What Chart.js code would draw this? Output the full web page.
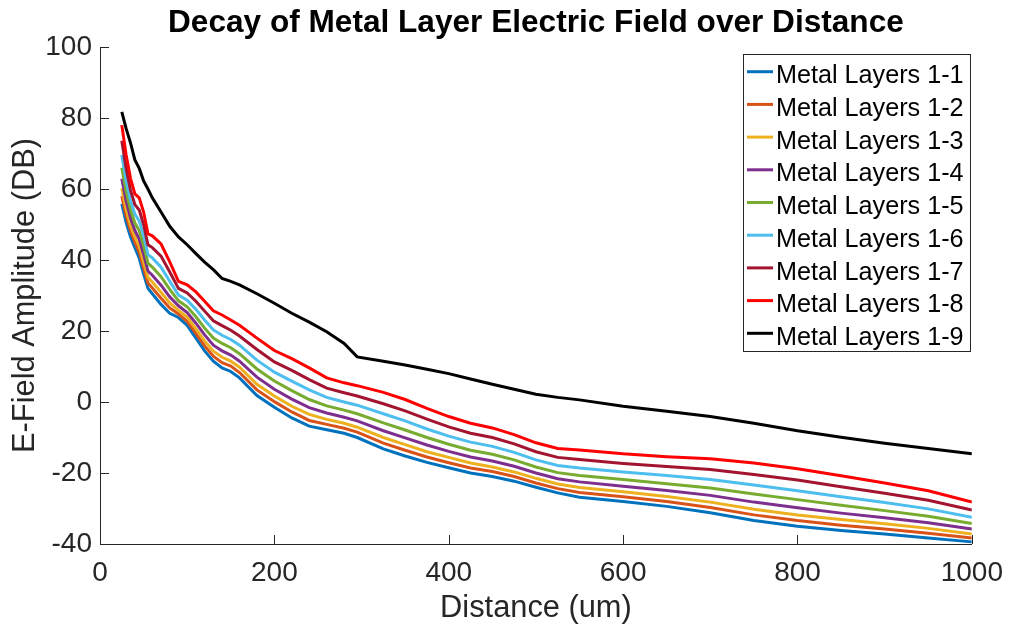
<!DOCTYPE html>
<html>
<head>
<meta charset="utf-8">
<title>Decay of Metal Layer Electric Field over Distance</title>
<script src="https://cdn.jsdelivr.net/npm/chart.js@4.4.1/dist/chart.umd.min.js"></script>
<style>
  html, body { margin: 0; padding: 0; background: #ffffff; }
  #wrap { width: 1015px; height: 628px; }
</style>
</head>
<body>
<div id="wrap"><canvas id="c" width="1015" height="628"></canvas></div>
<script>
// Distance samples (um)
const distance = [25,30,35,40,45,50,55,60,70,80,90,100,110,120,130,140,150,160,180,200,220,240,260,280,295,325,350,375,400,425,450,475,500,525,550,600,650,700,750,800,850,900,950,1000];

// E-field amplitude (dB) per metal layer stack
const layers1_1 = [55.8,50.5,46.5,43.5,40.5,36,32,30.5,27.5,25,23.8,21.6,18,14.4,11.5,9.6,8.6,6.8,1.8,-1.5,-4.5,-6.8,-7.8,-8.8,-10,-13.2,-15.2,-17,-18.5,-20,-21,-22.3,-24,-25.6,-26.8,-28,-29.4,-31.2,-33.4,-35,-36.2,-37.2,-38.3,-39.4];
const layers1_2 = [58.0,52.4,48.2,45.0,42.2,37.8,33.5,32.1,29.2,26.5,24.8,22.7,19.3,15.8,12.9,11.1,10.1,8.3,3.4,0.1,-2.8,-5.2,-6.3,-7.4,-8.5,-11.6,-13.6,-15.5,-17.1,-18.6,-19.6,-21.0,-22.8,-24.4,-25.5,-26.7,-28.0,-29.7,-31.8,-33.4,-34.7,-35.8,-37.0,-38.3];
const layers1_3 = [60.2,54.3,49.8,46.5,43.9,39.5,35.1,33.8,30.9,27.9,25.8,23.9,20.6,17.2,14.3,12.6,11.5,9.8,5.0,1.7,-1.2,-3.5,-4.9,-6.0,-7.1,-10.0,-12.0,-14.0,-15.6,-17.2,-18.3,-19.7,-21.5,-23.1,-24.1,-25.3,-26.6,-28.2,-30.2,-31.8,-33.1,-34.3,-35.6,-37.2];
const layers1_4 = [62.9,56.6,51.8,48.3,45.9,41.6,36.9,35.7,32.9,29.6,27.1,25.2,22.2,18.9,16.0,14.4,13.2,11.5,7.0,3.6,0.8,-1.6,-3.1,-4.3,-5.3,-8.1,-10.1,-12.1,-13.9,-15.5,-16.6,-18.1,-20.0,-21.6,-22.5,-23.7,-24.9,-26.3,-28.2,-29.8,-31.3,-32.6,-34.0,-35.8];
const layers1_5 = [66.0,59.3,54.1,50.4,48.3,44.1,39.1,38.0,35.3,31.7,28.5,26.8,24.0,20.8,18.0,16.5,15.3,13.6,9.3,5.9,3.2,0.7,-1.1,-2.3,-3.3,-5.9,-7.9,-10.0,-11.9,-13.6,-14.7,-16.3,-18.3,-19.9,-20.7,-21.8,-23.0,-24.2,-25.9,-27.5,-29.1,-30.6,-32.2,-34.2];
const layers1_6 = [69.6,62.3,56.7,52.9,51.0,46.9,41.5,40.6,38.0,34.0,30.1,28.7,26.1,23.1,20.3,18.8,17.6,16.0,11.8,8.4,5.9,3.4,1.3,0.0,-0.9,-3.3,-5.3,-7.6,-9.6,-11.3,-12.5,-14.2,-16.3,-17.9,-18.6,-19.7,-20.7,-21.8,-23.4,-25.0,-26.7,-28.3,-30.1,-32.5];
const layers1_7 = [73.6,65.8,59.7,55.6,54.1,50.0,44.3,43.5,41.1,36.6,32.0,30.7,28.4,25.6,22.9,21.5,20.2,18.6,14.8,11.3,8.9,6.3,3.9,2.6,1.7,-0.5,-2.5,-4.8,-7.0,-8.8,-10.0,-11.8,-14.0,-15.6,-16.2,-17.3,-18.2,-19.0,-20.4,-22.0,-23.9,-25.7,-27.7,-30.4];
const layers1_8 = [78,69.6,63,58.6,57.5,53.5,47.4,46.8,44.5,39.5,34,33,31,28.4,25.7,24.5,23.1,21.6,18,14.5,12.2,9.6,6.8,5.4,4.6,2.7,0.7,-1.8,-4.1,-6,-7.3,-9.2,-11.5,-13.1,-13.5,-14.6,-15.4,-16,-17.2,-18.8,-20.8,-22.8,-25,-28.2];
const layers1_9 = [81.7,77,73,68.2,65.8,62.3,60,57.5,53.5,49.5,46.5,44.3,41.8,39.4,37.3,34.8,34,33,30.5,27.8,25,22.5,19.8,16.5,12.7,11.5,10.4,9.2,8,6.5,5,3.6,2.2,1.3,0.6,-1.2,-2.6,-4.1,-6,-8.1,-9.9,-11.6,-13.1,-14.6];

const seriesNames = ['Metal Layers 1-1','Metal Layers 1-2','Metal Layers 1-3','Metal Layers 1-4','Metal Layers 1-5','Metal Layers 1-6','Metal Layers 1-7','Metal Layers 1-8','Metal Layers 1-9'];
const seriesValues = [layers1_1, layers1_2, layers1_3, layers1_4, layers1_5, layers1_6, layers1_7, layers1_8, layers1_9];
const seriesColors = ['#0072BD','#D95319','#EDB120','#7E2F8E','#77AC30','#4DBEEE','#A2142F','#FF0000','#000000'];

const xTicks = [0, 200, 400, 600, 800, 1000];
const yTicks = [-40, -20, 0, 20, 40, 60, 80, 100];

const chartTitle = 'Decay of Metal Layer Electric Field over Distance';
const xTitle = 'Distance (um)';
const yTitle = 'E-Field Amplitude (DB)';

const FONT = "'Liberation Sans', Arial, Helvetica, sans-serif";
const AXIS_COLOR = '#262626';

// Inward tick marks (axes drawn on left and bottom only)
const innerTicks = {
  id: 'innerTicks',
  afterDatasetsDraw(chart) {
    const { ctx, chartArea, scales } = chart;
    const len = 9;
    ctx.save();
    ctx.strokeStyle = AXIS_COLOR;
    ctx.lineWidth = 1;
    ctx.beginPath();
    scales.x.ticks.forEach(t => {
      const px = Math.round(scales.x.getPixelForValue(t.value)) + 0.5;
      ctx.moveTo(px, chartArea.bottom);
      ctx.lineTo(px, chartArea.bottom - len);
    });
    scales.y.ticks.forEach(t => {
      const py = Math.round(scales.y.getPixelForValue(t.value)) + 0.5;
      ctx.moveTo(chartArea.left, py);
      ctx.lineTo(chartArea.left + len, py);
    });
    ctx.stroke();
    ctx.restore();
  }
};

// Title centred over the plot area
const plotTitle = {
  id: 'plotTitle',
  afterDraw(chart) {
    const { ctx, chartArea } = chart;
    ctx.save();
    ctx.fillStyle = '#000000';
    ctx.font = 'bold 31.6px ' + FONT;
    ctx.textAlign = 'center';
    ctx.textBaseline = 'alphabetic';
    ctx.fillText(chartTitle, (chartArea.left + chartArea.right) / 2, 32);
    ctx.restore();
  }
};

// Boxed legend in the upper right of the plot area
const boxLegend = {
  id: 'boxLegend',
  afterDraw(chart) {
    const { ctx } = chart;
    const left = 743.5, top = 54.5, width = 227, height = 297;
    const firstRow = 71.7, rowGap = 32.7;
    ctx.save();
    ctx.fillStyle = '#ffffff';
    ctx.fillRect(left, top, width, height);
    ctx.strokeStyle = AXIS_COLOR;
    ctx.lineWidth = 1;
    ctx.strokeRect(left, top, width, height);
    ctx.font = '25.2px ' + FONT;
    ctx.textAlign = 'left';
    ctx.textBaseline = 'alphabetic';
    chart.data.datasets.forEach((ds, i) => {
      const y = firstRow + i * rowGap;
      ctx.strokeStyle = ds.borderColor;
      ctx.lineWidth = 3;
      ctx.beginPath();
      ctx.moveTo(747, y);
      ctx.lineTo(773, y);
      ctx.stroke();
      ctx.fillStyle = '#000000';
      ctx.fillText(ds.label, 776, y + 11.6);
    });
    ctx.restore();
  }
};

const datasets = seriesNames.map((name, i) => ({
  label: name,
  data: distance.map((d, k) => ({ x: d, y: seriesValues[i][k] })),
  borderColor: seriesColors[i],
  backgroundColor: seriesColors[i],
  borderWidth: 3,
  pointRadius: 0,
  pointHoverRadius: 0,
  tension: 0,
  fill: false,
  order: seriesNames.length - 1 - i
}));

new Chart(document.getElementById('c'), {
  type: 'line',
  data: { datasets },
  plugins: [innerTicks, plotTitle, boxLegend],
  options: {
    responsive: false,
    devicePixelRatio: 1,
    animation: false,
    events: [],
    layout: { padding: { top: 47, right: 37, left: 0, bottom: 0 } },
    plugins: {
      legend: { display: false },
      title: { display: false },
      tooltip: { enabled: false }
    },
    scales: {
      x: {
        type: 'linear',
        min: 0,
        max: 1000,
        afterBuildTicks: s => { s.ticks = xTicks.map(v => ({ value: v })); },
        afterFit: s => { s.height = 84; },
        grid: { display: false, drawTicks: false },
        border: { display: true, color: AXIS_COLOR, width: 1 },
        ticks: { color: AXIS_COLOR, font: { family: FONT, size: 28 }, padding: 12, maxRotation: 0, callback: v => String(v) },
        title: { display: true, text: xTitle, color: AXIS_COLOR, font: { family: FONT, size: 30.8 }, padding: { top: 0, bottom: 1 } }
      },
      y: {
        type: 'linear',
        min: -40,
        max: 100,
        afterBuildTicks: s => { s.ticks = yTicks.map(v => ({ value: v })); },
        afterFit: s => { s.width = 100; },
        grid: { display: false, drawTicks: false },
        border: { display: true, color: AXIS_COLOR, width: 1 },
        ticks: { color: AXIS_COLOR, font: { family: FONT, size: 28 }, padding: 8, callback: v => String(v) },
        title: { display: true, text: yTitle, color: AXIS_COLOR, font: { family: FONT, size: 30.8 }, padding: { top: 7, bottom: 0 } }
      }
    }
  }
});
</script>
</body>
</html>
